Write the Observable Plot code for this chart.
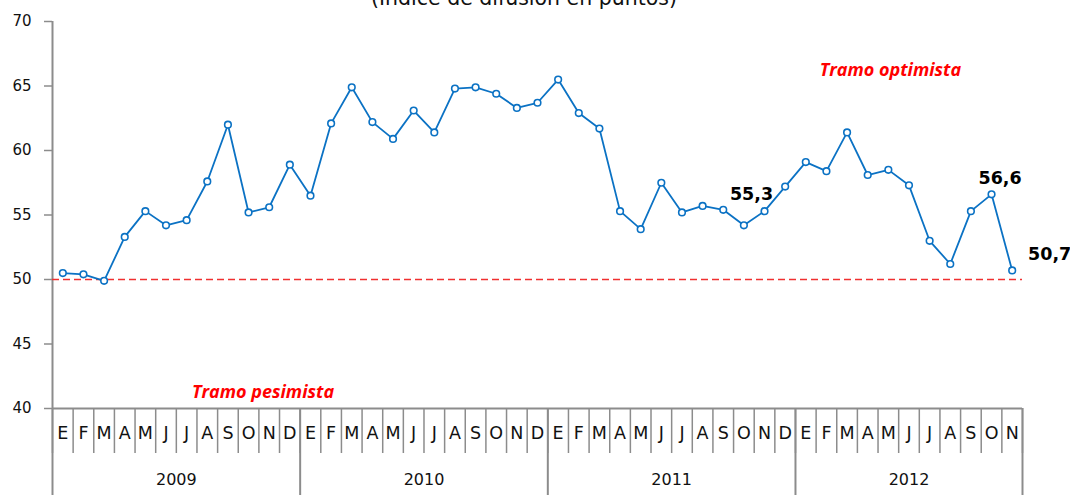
<!DOCTYPE html>
<html>
<head>
<meta charset="utf-8">
<script src="https://cdn.jsdelivr.net/npm/d3@7"></script>
<script src="https://cdn.jsdelivr.net/npm/@observablehq/plot@0.6"></script>
<style>
  html, body { margin: 0; padding: 0; background: #fff; overflow: hidden; }
  #wrap { position: relative; width: 1070px; height: 495px; }
  #title { position: absolute; top: -14px; left: 0; width: 1048px; text-align: center;
           font: 20.5px "DejaVu Sans", sans-serif; color: #111; line-height: 24px; }
</style>
</head>
<body>
<div id="wrap">
  <div id="title">(Índice de difusión en puntos)</div>
</div>
<script>
const monthNames = ["E","F","M","A","M","J","J","A","S","O","N","D"];
const years = [2009, 2010, 2011, 2012];
const values = [
  50.5, 50.4, 49.9, 53.3, 55.3, 54.2, 54.6, 57.6, 62.0, 55.2, 55.6, 58.9,
  56.5, 62.1, 64.9, 62.2, 60.9, 63.1, 61.4, 64.8, 64.9, 64.4, 63.3, 63.7,
  65.5, 62.9, 61.7, 55.3, 53.9, 57.5, 55.2, 55.7, 55.4, 54.2, 55.3, 57.2,
  59.1, 58.4, 61.4, 58.1, 58.5, 57.3, 53.0, 51.2, 55.3, 56.6, 50.7
];
const yTicks = [40, 45, 50, 55, 60, 65, 70];
const threshold = 50;
const zoneLabels = ["Tramo optimista", "Tramo pesimista"];

const data = values.map((v, i) => ({i, v, month: monthNames[i % 12], year: years[Math.floor(i / 12)]}));
const n = values.length;
const fmt = v => v.toFixed(1).replace(".", ",");
const monthBounds = d3.range(n + 1).map(i => i - 0.5);
const yearBounds = [-0.5, ...years.slice(1).map(y => data.find(d => d.year === y).i - 0.5), n - 0.5];
const yearCenters = years.map(y => {
  const ii = data.filter(d => d.year === y).map(d => d.i);
  return {year: y, c: d3.mean(ii)};
});

const blue = "#0b72c4";
const grey = "#8c8c8c";
const font = "'DejaVu Sans', sans-serif";
const italicFont = "'Open Sans', sans-serif";

const chart = Plot.plot({
  width: 1070,
  height: 495,
  marginTop: 21,
  marginBottom: 87,
  marginLeft: 52,
  marginRight: 48,
  x: {type: "linear", domain: [-0.5, n - 0.5], axis: null},
  y: {domain: [40, 70], axis: null},
  style: {fontFamily: font, fontSize: "15px", color: "#111", background: "transparent", overflow: "visible"},
  marks: [
    Plot.axisY(yTicks, {label: null, tickSize: 8, tickPadding: 13, stroke: grey, strokeWidth: 1.5, fontSize: 15, tickFormat: d => String(d)}),
    Plot.ruleY([40], {stroke: grey, strokeWidth: 2}),
    Plot.ruleX([-0.5], {y1: 40, y2: 70, stroke: grey, strokeWidth: 2}),
    Plot.axisX(monthBounds, {label: null, tickSize: 45, stroke: grey, strokeWidth: 1.5, tickFormat: () => ""}),
    Plot.axisX(yearBounds, {label: null, tickSize: 87, stroke: grey, strokeWidth: 2, tickFormat: () => ""}),
    Plot.axisX(d3.range(n), {label: null, tickSize: 0, tickPadding: 18, fontSize: 17.5, tickFormat: i => monthNames[i % 12]}),
    Plot.axisX(yearCenters.map(d => d.c), {label: null, tickSize: 0, tickPadding: 65, fontSize: 16, tickFormat: c => String(yearCenters.find(d => d.c === c).year)}),
    Plot.ruleY([threshold], {x1: -0.5, x2: n - 0.5, stroke: "#f03030", strokeWidth: 1.5, strokeDasharray: "7,4"}),
    Plot.line(data, {x: "i", y: "v", stroke: blue, strokeWidth: 1.8}),
    Plot.dot(data, {x: "i", y: "v", r: 3.3, fill: "white", stroke: blue, strokeWidth: 1.6}),
    Plot.text(data.filter(d => d.i === 34), {x: "i", y: "v", text: d => fmt(d.v), dx: -13, dy: -16.5, fontSize: 17.5, fontWeight: "bold", fill: "#000"}),
    Plot.text(data.filter(d => d.i === 45), {x: "i", y: "v", text: d => fmt(d.v), dx: 8.5, dy: -16, fontSize: 17.5, fontWeight: "bold", fill: "#000"}),
    Plot.text(data.filter(d => d.i === 46), {x: "i", y: "v", text: d => fmt(d.v), dx: 37.5, dy: -16.5, fontSize: 17.5, fontWeight: "bold", fill: "#000"}),
    Plot.text([zoneLabels[0]], {x: 40.1, y: 66.2, text: d => d, fill: "#ff0000", fontSize: 18, fontWeight: "bold", fontStyle: "italic", fontFamily: italicFont}),
    Plot.text([zoneLabels[1]], {x: 9.7, y: 41.25, text: d => d, fill: "#ff0000", fontSize: 18, fontWeight: "bold", fontStyle: "italic", fontFamily: italicFont})
  ]
});
document.getElementById("wrap").appendChild(chart);
</script>
</body>
</html>
